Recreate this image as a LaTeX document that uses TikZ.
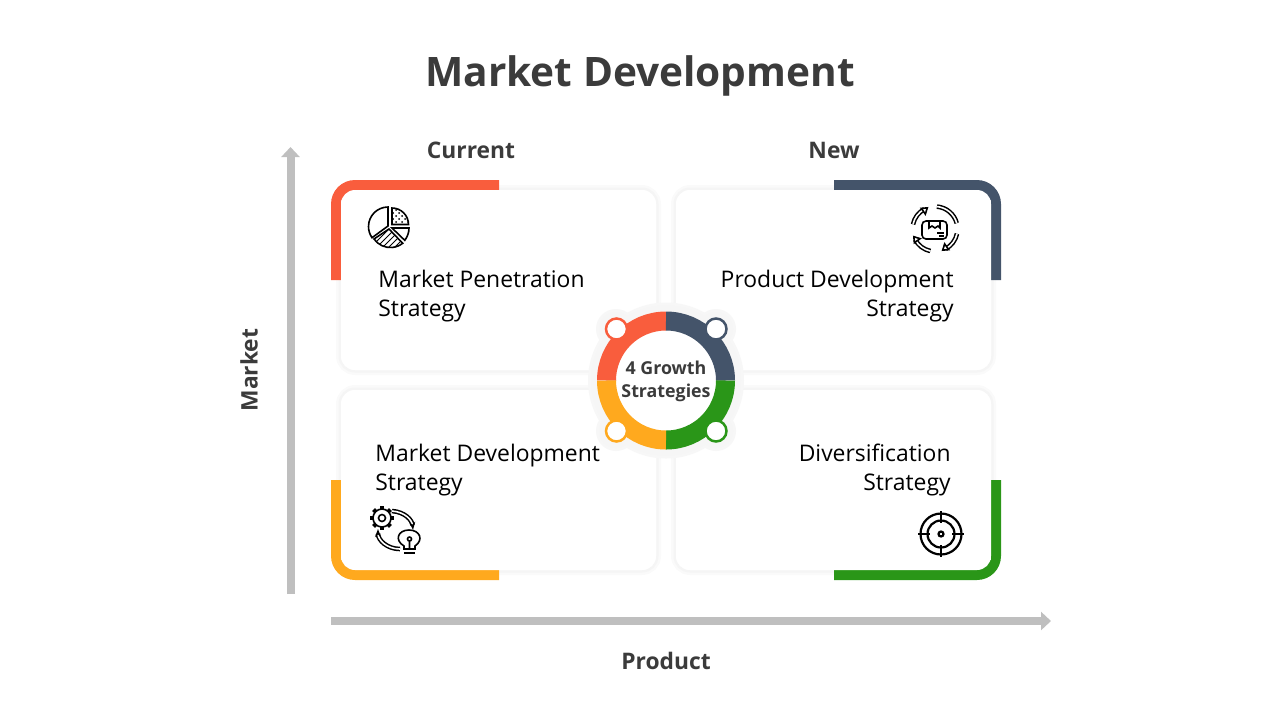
\documentclass[tikz,border=0pt]{standalone}
\usepackage{fontspec}
\setmainfont{Open Sans}
\usetikzlibrary {arrows.meta, patterns}
\definecolor{redC}{HTML}{F95D3D}
\definecolor{blueC}{HTML}{44546A}
\definecolor{yellowC}{HTML}{FFA91E}
\definecolor{greenC}{HTML}{2A9618}
\definecolor{headC}{HTML}{3B3B3B}
\definecolor{axisC}{HTML}{BFBFBF}
\definecolor{haloC}{HTML}{F6F6F6}
\newcommand*{\bodyfont}{\fontsize{11.45}{14.5}\selectfont}

\begin{document}
\begin{tikzpicture}[x=0.5pt,y=-0.5pt,
      card/.style={fill=white,rounded corners=7pt,minimum width=157.5pt,minimum height=90pt},
      halo/.style={card,preaction={draw=black!2,line width=5pt},preaction={draw=black!4,line width=2.5pt}},
      corner/.style={rounded corners=12pt},
      body/.style={font=\bodyfont,text=black,inner sep=0pt},
      head/.style={font=\fontsize{11.4}{14}\selectfont\bfseries,text=headC},
      dot/.style={circle,fill=white,draw=#1,line width=1.25pt,minimum size=10.5pt,inner sep=0pt},
      axis/.style={draw=axisC,line width=4pt,-{Triangle[length=5pt,width=9pt]}},
      icon/.style={draw=black,line width=0.8pt},
      hollow/.style={icon,double=white,double distance=0.8pt,line width=0.75pt}]
      \useasboundingbox (0,0) rectangle (1280,720);
      \node[font=\fontsize{20.3}{24}\selectfont\bfseries,text=headC] (title) at (640,75.5) {Market Development};
      \node[head] (current) at (471,150) {Current};
      \node[head] (new) at (834,150) {New};
      \node[head,rotate=90] (market) at (249,370) {Market};
      \node[head] (product) at (666,661) {Product};
      % axes
      \coordinate (y_0) at (290.5,594);
      \coordinate (y_1) at (290.5,147);
      \coordinate (x_0) at (331,621);
      \coordinate (x_1) at (1051,621);
      \draw[axis] (y_0) -- (y_1);
      \draw[axis] (x_0) -- (x_1);
      % soft edges of the cards
      \node[halo] (halo_1) at (498.5,280) {};
      \node[halo] (halo_2) at (833.5,280) {};
      \node[halo] (halo_3) at (498.5,480) {};
      \node[halo] (halo_4) at (833.5,480) {};
      % coloured corners
      \fill[redC] (331,280) [corner] -- (331,180) [sharp corners] -- (499,180) -- (499,200) -- (341,200) -- (341,280) -- cycle;
      \fill[blueC] (1001,280) [corner] -- (1001,180) [sharp corners] -- (834,180) -- (834,200) -- (991,200) -- (991,280) -- cycle;
      \fill[yellowC] (331,480) [corner] -- (331,580) [sharp corners] -- (499,580) -- (499,560) -- (341,560) -- (341,480) -- cycle;
      \fill[greenC] (1001,480) [corner] -- (1001,580) [sharp corners] -- (834,580) -- (834,560) -- (991,560) -- (991,480) -- cycle;
      % cards
      \node[card] (card_1) at (498.5,280) {};
      \node[card] (card_2) at (833.5,280) {};
      \node[card] (card_3) at (498.5,480) {};
      \node[card] (card_4) at (833.5,480) {};
      \node[body,anchor=west,align=left] (text_1) at (378,296) {Market Penetration\\Strategy};
      \node[body,anchor=east,align=right] (text_2) at (954,296) {Product Development\\Strategy};
      \node[body,anchor=west,align=left] (text_3) at (375,470) {Market Development\\Strategy};
      \node[body,anchor=east,align=right] (text_4) at (951,470) {Diversification\\Strategy};
      % centre ring
      \coordinate (c) at (666,380.5);
      \fill[black!3] (c) circle (78);
      \foreach \a/\b in {616/329,716/329,616/431,716/431}
        {\fill[black!3] (\a,\b) circle (20);}
      \fill[haloC] (c) circle (75);
      \foreach \a/\b in {616/329,716/329,616/431,716/431}
        {\fill[haloC] (\a,\b) circle (17);}
      \fill[white] (c) circle (50);
      \foreach \ang/\col in {180/redC,270/blueC,0/greenC,90/yellowC}
        {\draw[\col,line width=9.5pt] (c) ++(\ang:59.5) arc (\ang:\ang+90:59.5);}
      \node[dot=redC] (dot_1) at (616.5,329) {};
      \node[dot=blueC] (dot_2) at (716,329) {};
      \node[dot=yellowC] (dot_3) at (616.5,431) {};
      \node[dot=greenC] (dot_4) at (716,431) {};
      \node[font=\fontsize{8.9}{11.5}\selectfont\bfseries,text=headC,align=center] (growth) at (666,381.5) {4 Growth\\Strategies};
      % pie icon
      \draw[icon] (388,207) arc (270:145:19.5) -- (388,226) -- cycle;
      \draw[icon,pattern=crosshatch dots] (392,208) arc (270:360:16.5) -- (392,224.5) -- cycle;
      \draw[icon] (392,228) -- (409,228) arc (0:38:20) -- cycle;
      \draw[icon,pattern=north east lines] (389,229) -- (374,239) arc (145:52:20) -- cycle;
      % box icon
      \foreach \ang in {180,0,90}
        {\draw[hollow] (935,229) ++(\ang+12:22.5) arc (\ang+12:\ang+62:22.5);
         \draw[icon,fill=white] (935,229) ++(\ang+70:22.5) -- ++(\ang+70-75:6) -- ++(\ang+70+165:7) -- cycle;}
      \draw[hollow] (935,229) ++(275:22.5) arc (275:345:22.5);
      \draw[icon,rounded corners=2pt] (922,221) rectangle (947,239);
      \draw[icon] (929,221) -- (929,228) -- (932,226) -- (935,228) -- (938,226) -- (940,228) -- (940,221);
      \draw[icon,line width=0.6pt] (937,233) -- (944,233) (939,236) -- (944,236);
      % gear and bulb icon
      \draw[hollow,-{Stealth[length=4pt]}] (392,511) .. controls (405,512) and (412,520) .. (413,530);
      \draw[hollow,-{Stealth[length=4pt]}] (400,549) .. controls (387,549) and (378,540) .. (378,529);
      \draw[icon,fill=white] (382,518) circle (9);
      \draw[icon] (382,518) circle (3.5);
      \foreach \ang in {0,45,...,315}
        {\draw[icon,line width=2pt] (382,518) ++(\ang:9) -- ++(\ang:3);}
      \draw[icon,fill=white] (404,549) -- (404,546) .. controls (394,540) and (398,530) .. (409,530) .. controls (420,530) and (424,540) .. (415,546) -- (415,549) -- cycle;
      \draw[icon] (404,553) -- (415,553);
      \draw[icon] (409.5,549) -- (409.5,541) (409.5,539) circle (2);
      % target icon
      \coordinate (t) at (941,534);
      \draw[icon,line width=1.1pt] (t) circle (20.5) (t) circle (13.5);
      \draw[icon,line width=1.1pt] (t) circle (2.5);
      \draw[icon,line width=1.1pt] (918,534) -- (930,534) (952,534) -- (964,534) (941,511) -- (941,523) (941,545) -- (941,557);
    \end{tikzpicture}
\end{document}
